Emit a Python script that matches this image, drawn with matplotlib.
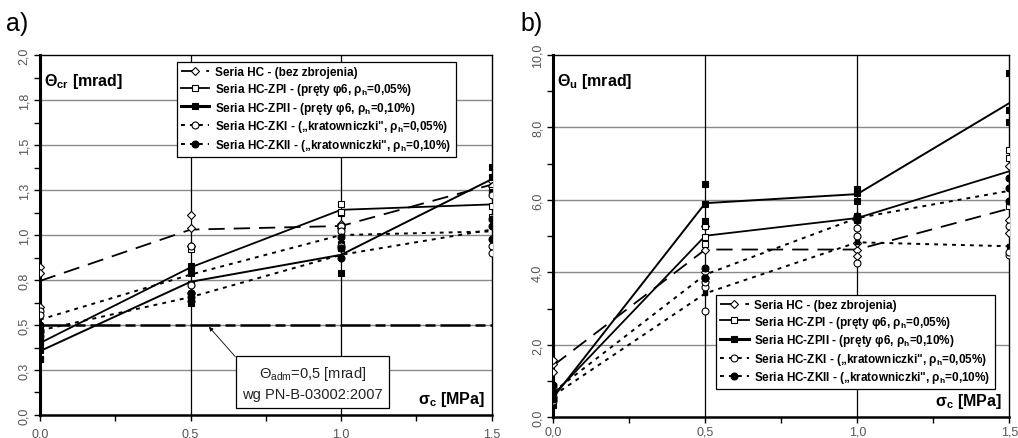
import numpy as np
import matplotlib
matplotlib.use("Agg")
import matplotlib.pyplot as plt
from matplotlib.lines import Line2D
from matplotlib.ticker import FixedLocator, MultipleLocator, FuncFormatter

plt.rcParams['font.family'] = ['Liberation Sans', 'DejaVu Sans']
plt.rcParams['mathtext.fontset'] = 'custom'
plt.rcParams['mathtext.rm'] = 'Liberation Sans'
plt.rcParams['mathtext.bf'] = 'Liberation Sans:bold'
plt.rcParams['mathtext.it'] = 'Liberation Sans:italic'

# stress levels sigma_c [MPa]
sigma = [0.0, 0.5, 1.0, 1.5]

# a) cracking rotation Theta_cr [mrad] - mean lines
a_hc = [0.745, 1.03, 1.05, 1.28]
a_zp1 = [0.40, 0.82, 1.14, 1.17]
a_zp2 = [0.355, 0.74, 0.89, 1.31]
a_zk1 = [0.53, 0.78, 1.00, 1.02]
a_zk2 = [0.47, 0.655, 0.89, 1.03]
# a) single specimens
a_hc_pts = [[0.82, 0.79, 0.60], [1.11, 0.94, 1.04], [1.06, 1.04, 1.05], [1.30, 1.27, 1.27]]
a_zp1_pts = [[0.41, 0.31, 0.48], [0.92, 0.73, 0.81], [1.17, 1.12, 1.13], [1.16, 1.10, 1.25]]
a_zp2_pts = [[0.40, 0.36, 0.31], [0.83, 0.79, 0.62], [0.79, 0.93, 0.95], [1.38, 1.32, 1.24]]
a_zk1_pts = [[0.58, 0.555, 0.46], [0.94, 0.72, 0.68], [1.05, 1.02, 0.94], [1.22, 0.94, 0.90]]
a_zk2_pts = [[0.50, 0.47, 0.44], [0.68, 0.655, 0.635], [0.99, 0.93, 0.87], [1.09, 1.05, 0.98]]
theta_adm = 0.5

# b) ultimate rotation Theta_u [mrad] - mean lines
b_hc = [1.43, 4.63, 4.63, 5.76]
b_zp1 = [0.62, 5.01, 5.50, 6.79]
b_zp2 = [0.55, 5.91, 6.16, 8.67]
b_zk1 = [0.60, 3.42, 4.83, 4.72]
b_zk2 = [0.70, 3.94, 5.50, 6.25]
# b) single specimens
b_hc_pts = [[1.47, 1.25, 1.57], [4.00, 5.27, 4.63], [4.63, 4.80, 4.45], [6.94, 5.45, 5.10]]
b_zp1_pts = [[0.75, 0.50, 0.62], [5.27, 4.78, 4.98], [5.50, 5.45, 5.55], [7.38, 5.82, 7.17]]
b_zp2_pts = [[0.85, 0.60, 0.35], [6.44, 5.41, 5.88], [6.31, 5.97, 6.20], [9.50, 8.47, 8.16]]
b_zk1_pts = [[0.80, 0.45, 0.55], [2.93, 3.60, 3.73], [4.26, 5.00, 5.23], [4.49, 4.55, 5.27]]
b_zk2_pts = [[0.90, 0.70, 0.50], [4.12, 3.85, 3.85], [5.56, 5.45, 5.50], [6.60, 6.33, 5.96]]

labels = [
    'Seria HC - (bez zbrojenia)',
    'Seria HC-ZPI - (pręty φ6, ρ$_\\mathregular{h}$=0,05%)',
    'Seria HC-ZPII - (pręty φ6, ρ$_\\mathregular{h}$=0,10%)',
    'Seria HC-ZKI - („kratowniczki", ρ$_\\mathregular{h}$=0,05%)',
    'Seria HC-ZKII - („kratowniczki", ρ$_\\mathregular{h}$=0,10%)',
]

# line / marker styles per series
dots = (0, (2.0, 2.6))
styles = [
    dict(ls=(0, (9, 5)), marker='D', mfc='white', ms=4.2, lw=1.3),
    dict(ls='-', marker='s', mfc='white', ms=5, lw=1.3),
    dict(ls='-', marker='s', mfc='black', ms=5, lw=2.2),
    dict(ls=dots, marker='o', mfc='white', ms=5, lw=1.4),
    dict(ls=dots, marker='o', mfc='black', ms=5, lw=1.4),
]


def comma(v, pos=None, nd=1):
    return f'{v:.{nd}f}'.replace('.', ',')


def draw(ax, means, pts):
    for m, st in zip(means, styles):
        ax.plot(sigma, m, color='black', lw=min(st['lw'], 1.4), ls=st['ls'], zorder=3)
    for p, st in zip(pts, styles):
        for xv, vals in zip(sigma, p):
            ax.plot([xv] * len(vals), vals, ls='none', marker=st['marker'],
                    mfc=st['mfc'], mec='black', mew=0.8, ms=st['ms'], zorder=4)


def frame(ax, ymax, ymajor, yminor, ylabels, xpad):
    ax.set_xlim(0, 1.5)
    ax.set_ylim(0, ymax)
    ax.xaxis.set_major_locator(FixedLocator([0, 0.5, 1.0, 1.5]))
    ax.xaxis.set_minor_locator(MultipleLocator(0.25))
    ax.xaxis.set_major_formatter(FuncFormatter(comma))
    ax.yaxis.set_major_locator(FixedLocator(ymajor))
    ax.yaxis.set_minor_locator(MultipleLocator(yminor))
    ax.set_yticklabels(ylabels, rotation=90, va='center')
    ax.tick_params(which='both', direction='out', length=4, width=1, color='black',
                   labelsize=9, labelcolor='#555555', pad=3)
    ax.tick_params(axis='x', pad=xpad)
    for v in ymajor[1:-1]:
        ax.axhline(v, color='#8a8a8a', lw=1.0, zorder=1)
    for v in [0.5, 1.0]:
        ax.axvline(v, color='black', lw=0.9, zorder=1)
    ax.spines['left'].set_linewidth(2.2)
    ax.spines['bottom'].set_linewidth(1.8)
    ax.spines['top'].set_linewidth(1.0)
    ax.spines['right'].set_linewidth(1.0)


fig = plt.figure(figsize=(10.18, 4.39), dpi=100)
ax1 = fig.add_axes([0.0393, 0.0524, 0.4437, 0.820])
ax2 = fig.add_axes([0.5435, 0.0472, 0.4479, 0.8253])

# ---- a)
yt_a = [0, 0.25, 0.5, 0.75, 1.0, 1.25, 1.5, 1.75, 2.0]
frame(ax1, 2.0, yt_a, 0.125,
      [comma(v) if v not in (0.25, 0.75, 1.25, 1.75) else comma(v + 0.05) for v in yt_a], 5)
draw(ax1, [a_hc, a_zp1, a_zp2, a_zk1, a_zk2],
     [a_hc_pts, a_zp1_pts, a_zp2_pts, a_zk1_pts, a_zk2_pts])
ax1.axhline(theta_adm, color='black', lw=1.8, ls=(0, (12, 2, 4, 2)), zorder=2)
ax1.annotate('Θ$_\\mathregular{adm}$=0,5 [mrad]\nwg PN-B-03002:2007',
             xy=(0.561, theta_adm - 0.01), xycoords='data',
             xytext=(0.905, 0.178), textcoords='data', ha='center', va='center',
             fontsize=10.5, color='#222222', linespacing=1.45,
             bbox=dict(boxstyle='square,pad=0.45', fc='white', ec='black', lw=0.9),
             arrowprops=dict(arrowstyle='-|>', color='black', lw=0.6,
                             mutation_scale=6, shrinkA=0, shrinkB=0,
                             relpos=(0.0, 1.0)),
             zorder=6)
ax1.text(0.008, 0.93, r'$\mathbf{\Theta_{cr}}$ [mrad]', transform=ax1.transAxes,
         fontsize=11.5, fontweight='bold', va='center', ha='left')
ax1.text(0.985, 0.045, r'$\mathbf{\sigma_c}$ [MPa]', transform=ax1.transAxes,
         fontsize=11.5, fontweight='bold', va='center', ha='right', zorder=6)

# ---- b)
yt_b = [0, 2, 4, 6, 8, 10]
frame(ax2, 10.0, yt_b, 1.0, [comma(v) for v in yt_b], 2)
draw(ax2, [b_hc, b_zp1, b_zp2, b_zk1, b_zk2],
     [b_hc_pts, b_zp1_pts, b_zp2_pts, b_zk1_pts, b_zk2_pts])
ax2.plot(sigma[1:], b_zk1[1:], ls='none', marker='s', ms=3, color='black', zorder=5)
ax2.text(0.008, 0.93, r'$\mathbf{\Theta_u}$ [mrad]', transform=ax2.transAxes,
         fontsize=11.5, fontweight='bold', va='center', ha='left')
ax2.text(0.985, 0.045, r'$\mathbf{\sigma_c}$ [MPa]', transform=ax2.transAxes,
         fontsize=11.5, fontweight='bold', va='center', ha='right', zorder=6)

# legends
handles = [Line2D([0], [0], color='black', lw=st['lw'], ls=st['ls'], marker=st['marker'],
                  mfc=st['mfc'], mec='black', mew=0.8, ms=st['ms']) for st in styles]
for ax, anchor in [(ax1, (0.303, 0.98)), (ax2, (0.357, 0.338))]:
    lg = ax.legend(handles, labels, loc='upper left', bbox_to_anchor=anchor,
                   prop=dict(size=8.5, weight='bold'), frameon=True, fancybox=False,
                   framealpha=1, edgecolor='black', handlelength=2.4,
                   handletextpad=0.5, labelspacing=0.22, borderpad=0.35,
                   borderaxespad=0)
    lg.get_frame().set_linewidth(0.9)
    lg.set_zorder(7)

fig.text(0.006, 0.945, 'a)', fontsize=18, va='center', ha='left')
fig.text(0.511, 0.945, 'b)', fontsize=18, va='center', ha='left')

fig.savefig('out.png', dpi=100)
